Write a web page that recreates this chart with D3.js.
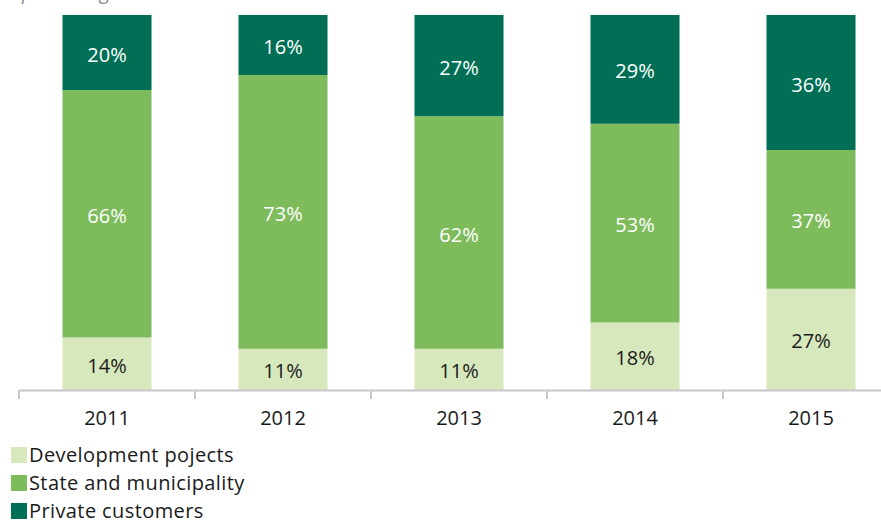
<!DOCTYPE html>
<html>
<head>
<meta charset="utf-8">
<script src="https://cdn.jsdelivr.net/npm/d3@7"></script>
<style>
  body { margin: 0; background: #fff; }
  svg { display: block; font-family: "Open Sans", sans-serif; }
</style>
</head>
<body>
<div id="chart"></div>
<script>
const years = ["2011", "2012", "2013", "2014", "2015"];
const seriesNames = ["Development pojects", "State and municipality", "Private customers"];
const development = [14, 11, 11, 18, 27];
const stateMunicipality = [66, 73, 62, 53, 37];
const privateCustomers = [20, 16, 27, 29, 36];

const COLORS = ["#d7e8bd", "#7dbb5b", "#006f56"];
const LABEL_COLORS = ["#1a1a1a", "#ffffff", "#ffffff"];

const W = 881, H = 520;

const svg = d3.select("#chart").append("svg")
  .attr("width", W)
  .attr("height", H);

// x axis runs past the right edge, as in the source picture
const x = d3.scaleBand()
  .domain(years)
  .range([19, 899])
  .paddingInner(0)
  .paddingOuter(0);

const y = d3.scaleLinear()
  .domain([0, 100])
  .range([390, 15]);

const rows = years.map(function(yr, i) {
  return { year: yr, dev: development[i], state: stateMunicipality[i], priv: privateCustomers[i] };
});

const stack = d3.stack().keys(["dev", "state", "priv"]);
const layers = stack(rows);

// partially hidden subtitle at the top
svg.append("text")
  .attr("x", 22)
  .attr("y", -1)
  .attr("fill", "#8c8c8c")
  .style("font-style", "italic")
  .style("font-size", "20px")
  .text("percentage");

const barW = 89;
const barOffset = (x.bandwidth() - barW) / 2;

const layer = svg.selectAll(".layer")
  .data(layers)
  .enter().append("g")
    .attr("class", "layer");

layer.each(function(L, li) {
  const g = d3.select(this);
  g.selectAll("rect")
    .data(L)
    .enter().append("rect")
      .attr("x", function(d) { return x(d.data.year) + barOffset; })
      .attr("y", function(d) { return y(d[1]); })
      .attr("width", barW)
      .attr("height", function(d) { return y(d[0]) - y(d[1]); })
      .attr("fill", COLORS[li]);

  g.selectAll("text")
    .data(L)
    .enter().append("text")
      .attr("x", function(d) { return x(d.data.year) + x.bandwidth() / 2; })
      .attr("y", function(d) { return (y(d[0]) + y(d[1])) / 2 + 2; })
      .attr("dy", "0.35em")
      .attr("text-anchor", "middle")
      .attr("fill", LABEL_COLORS[li])
      .style("font-size", "20px")
      .text(function(d) { return (d[1] - d[0]) + "%"; });
});

// axis
const xAxis = d3.axisBottom(x).tickSize(0).tickPadding(21);
const ax = svg.append("g")
  .attr("transform", "translate(0,390)")
  .call(xAxis);
ax.select(".domain").attr("stroke", "#c8c8c8").attr("stroke-width", 2);
ax.selectAll("text").style("font-size", "20px").attr("fill", "#1a1a1a").attr("font-family", "Open Sans, sans-serif");

// ticks between categories
svg.append("g").selectAll("line")
  .data(years)
  .enter().append("line")
    .attr("x1", function(d) { return x(d); })
    .attr("x2", function(d) { return x(d); })
    .attr("y1", 390)
    .attr("y2", 399)
    .attr("stroke", "#c8c8c8")
    .attr("stroke-width", 2);

// legend
const legend = svg.append("g").selectAll("g")
  .data(seriesNames)
  .enter().append("g")
    .attr("transform", function(d, i) { return "translate(11," + (455 + i * 28) + ")"; });

legend.append("rect")
  .attr("x", 0)
  .attr("y", -8)
  .attr("width", 16)
  .attr("height", 16)
  .attr("fill", function(d, i) { return COLORS[i]; });

legend.append("text")
  .attr("x", 18)
  .attr("dy", "0.35em")
  .attr("fill", "#1a1a1a")
  .style("font-size", "20px")
  .style("letter-spacing", "0.4px")
  .text(function(d) { return d; });
</script>
</body>
</html>
